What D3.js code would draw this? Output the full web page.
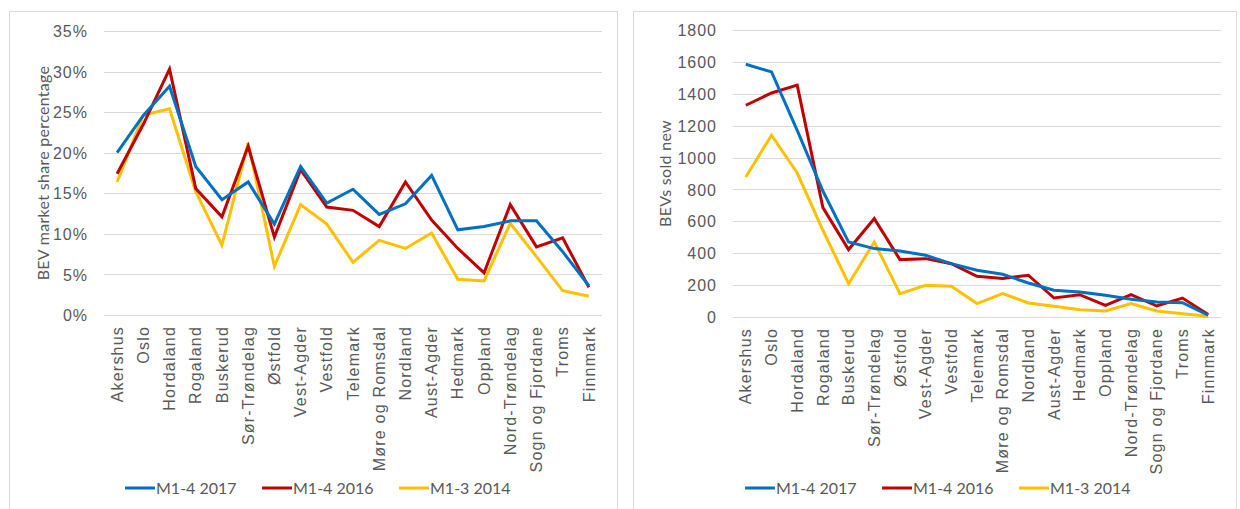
<!DOCTYPE html>
<html>
<head>
<meta charset="utf-8">
<script src="https://cdn.jsdelivr.net/npm/d3@7"></script>
<style>
  body { margin: 0; background: #fff; }
  svg { font-family: Lato, "Liberation Sans", sans-serif; }
  .grid line { stroke: #d9d9d9; stroke-width: 1; }
  .tick text { fill: #595959; }
</style>
</head>
<body>
<script>
var regions = ["Akershus", "Oslo", "Hordaland", "Rogaland", "Buskerud", "Sør-Trøndelag",
    "Østfold", "Vest-Agder", "Vestfold", "Telemark", "Møre og Romsdal", "Nordland",
    "Aust-Agder", "Hedmark", "Oppland", "Nord-Trøndelag", "Sogn og Fjordane", "Troms", "Finnmark"];

var seriesNames = ["M1-4 2017", "M1-4 2016", "M1-3 2014"];
var seriesColors = ["#0070c0", "#c00000", "#ffc000"];

// market share, percent
var share2017 = [20.0, 24.6, 28.2, 18.3, 14.2, 16.4, 11.2, 18.3, 13.8, 15.5, 12.4, 13.7, 17.2, 10.5, 10.9, 11.6, 11.6, 7.8, 3.6];
var share2016 = [17.4, 23.5, 30.3, 15.6, 12.1, 20.8, 9.6, 17.9, 13.3, 12.9, 10.9, 16.4, 11.7, 8.2, 5.2, 13.6, 8.4, 9.5, 3.4];
var share2014 = [16.4, 24.6, 25.4, 15.2, 8.6, 21.2, 6.0, 13.6, 11.2, 6.5, 9.2, 8.2, 10.1, 4.4, 4.2, 11.3, 7.2, 3.0, 2.3];

// BEVs sold new
var sold2017 = [1585, 1537, 1170, 790, 470, 429, 414, 387, 335, 293, 268, 213, 168, 157, 136, 111, 94, 90, 11];
var sold2016 = [1328, 1405, 1454, 686, 423, 617, 360, 366, 334, 255, 241, 262, 119, 140, 73, 140, 69, 119, 15];
var sold2014 = [878, 1140, 903, 544, 209, 470, 147, 199, 193, 84, 147, 88, 67, 46, 38, 84, 38, 21, 4];

var shareTicks = [0, 5, 10, 15, 20, 25, 30, 35];
var soldTicks = [0, 200, 400, 600, 800, 1000, 1200, 1400, 1600, 1800];

var svg = d3.select("body").append("svg")
    .attr("width", 1240)
    .attr("height", 509);

function drawPanel(opt) {
    var g = svg.append("g");

    // chart frame
    g.append("rect")
        .attr("x", opt.box[0] + 0.5)
        .attr("y", opt.box[1] + 0.5)
        .attr("width", opt.box[2])
        .attr("height", opt.box[3])
        .attr("fill", "#fff")
        .attr("stroke", "#d9d9d9");

    var x = d3.scaleBand().domain(regions).range([opt.left, opt.right]);
    var y = d3.scaleLinear().domain([0, opt.max]).range([opt.bottom, opt.top]);

    // gridlines
    g.append("g").attr("class", "grid").selectAll("line")
        .data(opt.ticks)
        .enter().append("line")
        .attr("x1", opt.left)
        .attr("x2", opt.right)
        .attr("y1", function(d) { return Math.round(y(d)) + 0.5; })
        .attr("y2", function(d) { return Math.round(y(d)) + 0.5; });

    // y axis
    var yAxis = g.append("g")
        .attr("transform", "translate(" + (opt.left - 16) + ",0)")
        .call(d3.axisLeft(y).tickValues(opt.ticks).tickSize(0).tickPadding(0).tickFormat(opt.fmt));
    yAxis.select(".domain").remove();
    yAxis.selectAll("text")
        .attr("font-size", "16px")
        .attr("letter-spacing", "1px")
        .attr("dy", "0.35em");

    // x axis, rotated labels
    var xAxis = g.append("g")
        .attr("transform", "translate(0," + opt.bottom + ")")
        .call(d3.axisBottom(x).tickSize(0).tickPadding(0));
    xAxis.select(".domain").remove();
    xAxis.selectAll("text")
        .attr("font-size", "16px")
        .attr("letter-spacing", "1.2px")
        .attr("text-anchor", "end")
        .attr("transform", "rotate(-90)")
        .attr("x", -11)
        .attr("y", 0)
        .attr("dy", "0.35em");

    // axis title
    g.append("text")
        .attr("transform", "translate(" + opt.titleX + "," + ((opt.top + opt.bottom) / 2) + ") rotate(-90)")
        .attr("text-anchor", "middle")
        .attr("dy", "0.35em")
        .attr("font-size", "16px")
        .attr("letter-spacing", "0.3px")
        .attr("fill", "#595959")
        .text(opt.title);

    var line = d3.line()
        .x(function(d, i) { return x(regions[i]) + x.bandwidth() / 2; })
        .y(function(d) { return y(d); });

    // draw 2014 first so the newer series sit on top
    for (var s = opt.series.length - 1; s >= 0; s--) {
        g.append("path")
            .datum(opt.series[s])
            .attr("fill", "none")
            .attr("stroke", seriesColors[s])
            .attr("stroke-width", 3)
            .attr("stroke-linejoin", "miter")
            .attr("d", line);
    }

    // legend
    var leg = g.append("g").selectAll("g")
        .data(seriesNames)
        .enter().append("g")
        .attr("transform", function(d, i) { return "translate(" + (opt.legendX + i * 137) + "," + opt.legendY + ")"; });
    leg.append("line")
        .attr("x1", 0).attr("x2", 30)
        .attr("stroke", function(d, i) { return seriesColors[i]; })
        .attr("stroke-width", 3);
    leg.append("text")
        .attr("x", 31)
        .attr("dy", "0.35em")
        .attr("font-size", "16px")
        .attr("fill", "#595959")
        .text(function(d) { return d; });
}

drawPanel({
    box: [9, 11, 608, 510],
    left: 104, right: 602, top: 31, bottom: 315,
    max: 35, ticks: shareTicks,
    fmt: function(d) { return d + "%"; },
    title: "BEV market share percentage", titleX: 43,
    series: [share2017, share2016, share2014],
    legendX: 125, legendY: 488
});

drawPanel({
    box: [633, 11, 603, 510],
    left: 733, right: 1221, top: 30, bottom: 317,
    max: 1800, ticks: soldTicks,
    fmt: function(d) { return d; },
    title: "BEVs sold new", titleX: 665,
    series: [sold2017, sold2016, sold2014],
    legendX: 745, legendY: 488
});
</script>
</body>
</html>
